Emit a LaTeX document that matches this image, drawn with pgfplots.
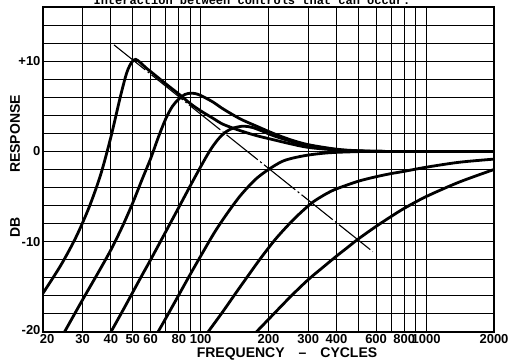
\documentclass[border=0pt]{standalone}
\usepackage{fontspec}
\setmainfont{Liberation Sans}
\setmonofont{Liberation Mono}
\usepackage{pgfplots}
\pgfplotsset{compat=1.18}
\begin{document}
\begin{tikzpicture}
\begin{axis}[
  scale only axis, width=451pt, height=325pt,
  xmode=log, xmin=20, xmax=2000, ymin=-20, ymax=16,
  xtick={20,30,40,50,60,80,100,200,300,400,600,800,1000,2000},
  xticklabels={\hspace*{8pt}20,30,40,50,60,80,100,200,300,400,600,800,1000,2000},
  minor xtick={70,90,500,700,900},
  ytick={-20,-10,0,10}, yticklabels={\raisebox{5pt}{-20},-10,0,+10},
  minor ytick={-18,-16,-14,-12,-8,-6,-4,-2,2,4,6,8,12,14},
  grid=both,
  major grid style={black, line width=0.9pt},
  minor grid style={black, line width=0.9pt},
  axis line style={line width=1.6pt},
  major tick length=0pt, minor tick length=0pt,
  /pgf/number format/assume math mode=true,
  ticklabel style={font=\fontsize{13}{13}\selectfont\bfseries},
  xticklabel style={yshift=1pt},
  yticklabel style={xshift=1pt},
]
\addplot[black, line width=1.1pt, dash pattern=on 40pt off 3pt on 2pt off 3pt] coordinates {(41.3,11.8) (580,-11.1)};
% curve 1
\addplot[black, line width=2.8pt, smooth] coordinates {(20,-15.7)(24,-12.6)(28,-9.5)(32,-6.2)(36,-2.6)(40,1.6)(44,6.0)(47,8.7)(49.5,9.9)(51.5,10.2)(54,9.85)(57,9.3)(60,8.85)(70,7.5)(81,6.25)(90,5.3)(100,4.5)(113,3.7)(126,3.0)(150,2.3)(177,1.75)(210,1.3)(250,0.85)(300,0.45)(400,0.15)(500,0.05)(700,0)(2000,0)};
% curve 2
\addplot[black, line width=2.8pt, smooth] coordinates {(24.9,-20)(30,-16.4)(35,-13.5)(40,-10.9)(45,-8.3)(50,-5.7)(55,-3.1)(60,-0.8)(65,1.6)(70,3.6)(75,5.0)(80,5.8)(85,6.3)(90,6.45)(95,6.4)(100,6.2)(113,5.5)(126,4.7)(150,3.6)(177,2.8)(210,2.0)(250,1.3)(300,0.75)(400,0.25)(500,0.08)(700,0)(2000,0)};
% curve 3
\addplot[black, line width=2.8pt, smooth] coordinates {(40,-20)(45,-17.7)(50,-15.6)(55,-13.7)(60,-12.0)(70,-8.9)(80,-6.2)(90,-3.8)(100,-1.7)(110,0.1)(120,1.4)(130,2.2)(140,2.6)(155,2.8)(170,2.65)(190,2.2)(210,1.75)(250,1.15)(300,0.65)(400,0.2)(500,0.05)(700,0)(2000,0)};
% curve 4
\addplot[black, line width=2.8pt, smooth] coordinates {(64.7,-20)(70,-18.5)(80,-15.9)(90,-13.6)(100,-11.6)(115,-9.0)(130,-7.0)(150,-4.9)(175,-3.1)(200,-2.0)(230,-1.1)(260,-0.7)(300,-0.4)(350,-0.2)(400,-0.1)(500,-0.02)(600,0)(2000,0)};
% curve 5
\addplot[black, line width=2.8pt, smooth] coordinates {(107.8,-20)(125,-17.8)(144,-15.6)(162,-13.8)(185,-11.8)(215,-9.7)(250,-7.9)(280,-6.7)(315,-5.6)(360,-4.7)(400,-4.15)(500,-3.3)(600,-2.8)(700,-2.45)(800,-2.2)(1000,-1.75)(1400,-1.2)(2000,-0.85)};
% curve 6
\addplot[black, line width=2.8pt, smooth] coordinates {(176.6,-20)(200,-18.6)(250,-16.1)(300,-14.2)(350,-12.8)(400,-11.6)(450,-10.6)(500,-9.7)(600,-8.3)(700,-7.2)(800,-6.3)(1000,-5.0)(1400,-3.4)(2000,-2.0)};
\end{axis}
\node[rotate=90, font=\fontsize{14}{14}\selectfont\bfseries] at (-28pt,198pt) {RESPONSE};
\node[rotate=90, font=\fontsize{14}{14}\selectfont\bfseries] at (-28pt,105pt) {DB};
\node[font=\fontsize{14}{14}\selectfont\bfseries] at (244pt,-22pt) {FREQUENCY\quad--\quad CYCLES};
\node[font=\ttfamily\bfseries\fontsize{12}{12}\selectfont, anchor=base] at (209pt,327pt) {Interaction between controls that can occur.};
\pgfresetboundingbox
\useasboundingbox (-43pt,-29pt) rectangle (476pt,332pt);
\end{tikzpicture}
\end{document}
